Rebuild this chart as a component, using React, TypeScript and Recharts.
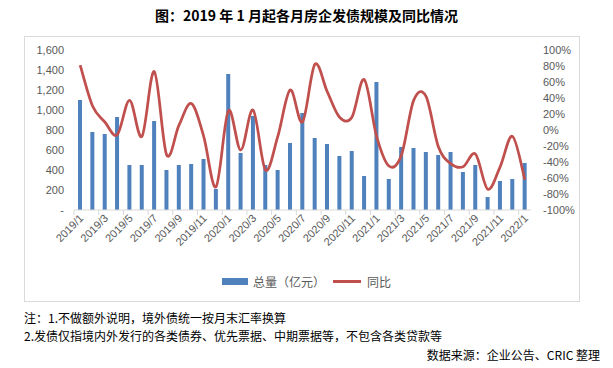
import React from 'react';
import { ComposedChart, Bar, Line, XAxis, YAxis } from 'recharts';

// monthly categories, 2019/1 – 2022/1
const months = [
  '2019/1', '2019/2', '2019/3', '2019/4', '2019/5', '2019/6', '2019/7', '2019/8', '2019/9', '2019/10', '2019/11', '2019/12',
  '2020/1', '2020/2', '2020/3', '2020/4', '2020/5', '2020/6', '2020/7', '2020/8', '2020/9', '2020/10', '2020/11', '2020/12',
  '2021/1', '2021/2', '2021/3', '2021/4', '2021/5', '2021/6', '2021/7', '2021/8', '2021/9', '2021/10', '2021/11', '2021/12',
  '2022/1',
];

// 总量（亿元）
const totals = [
  1100, 780, 760, 930, 450, 450, 890, 400, 450, 460, 510, 210,
  1360, 570, 940, 450, 400, 670, 970, 720, 660, 540, 590, 340,
  1280, 310, 630, 620, 580, 550, 580, 380, 450, 130, 290, 310,
  470,
];

// 同比 (%)
const yoy = [
  81, 30, 10, -6, 37, -8, 73, -31, 6, 33, -8, -71,
  24, -25, 25, -50, -8, 50, 10, 82, 48, 16, 16, 63,
  -8, -45, -32, 37, 42, -21, -42, -46, -30, -74, -46, -8,
  -62,
];

const leftTicks = [0, 200, 400, 600, 800, 1000, 1200, 1400, 1600];
const rightTicks = [-100, -80, -60, -40, -20, 0, 20, 40, 60, 80, 100];

const data = months.map((m, i) => ({ month: m, total: totals[i], yoy: yoy[i] }));

const BLUE = '#4F81BD';
const RED = '#C0504D';
const AXIS_TEXT = '#595959';
const FONT = '"Liberation Sans", Arial, sans-serif';
const CJK = '"Noto Sans CJK SC", "Noto Sans", sans-serif';

// Excel-like smoothed line (Catmull-Rom through every point)
const smoothCurve = (ctx: any) => {
  let pts: [number, number][] = [];
  return {
    areaStart() {},
    areaEnd() {},
    lineStart() {
      pts = [];
    },
    point(x: number, y: number) {
      pts.push([+x, +y]);
    },
    lineEnd() {
      const n = pts.length;
      if (!n) return;
      ctx.moveTo(pts[0][0], pts[0][1]);
      for (let i = 0; i < n - 1; i++) {
        const p0 = pts[Math.max(i - 1, 0)];
        const p1 = pts[i];
        const p2 = pts[i + 1];
        const p3 = pts[Math.min(i + 2, n - 1)];
        ctx.bezierCurveTo(
          p1[0] + (p2[0] - p0[0]) / 6,
          p1[1] + (p2[1] - p0[1]) / 6,
          p2[0] - (p3[0] - p1[0]) / 6,
          p2[1] - (p3[1] - p1[1]) / 6,
          p2[0],
          p2[1],
        );
      }
    },
  };
};

// rotated month label + tick mark on the category boundary
const MonthTick = (props: any) => {
  const { x, y, payload } = props;
  const half = payload?.offset ?? 6.2;
  return (
    <g>
      <line x1={x - half} x2={x - half} y1={y} y2={y + 5} stroke="#d9d9d9" />
      <text
        transform={`translate(${x + 4},${y + 9}) rotate(-45)`}
        textAnchor="end"
        fontSize={11}
        fontFamily={FONT}
        fill={AXIS_TEXT}
      >
        {payload.value}
      </text>
    </g>
  );
};

const fmtLeft = (v: number) => (v === 0 ? '-' : v.toLocaleString('en-US'));

export default function App() {
  return (
    <div
      style={{
        position: 'absolute',
        left: 0,
        top: 0,
        width: 613,
        height: 368,
        background: '#fff',
        overflow: 'hidden',
      }}
    >
      {/* Title */}
      <div
        style={{
          position: 'absolute',
          top: 5,
          left: 0,
          width: 613,
          textAlign: 'center',
          fontFamily: CJK,
          fontWeight: 700,
          fontSize: 14,
          color: '#000',
        }}
      >
        图：2019 年 1 月起各月房企发债规模及同比情况
      </div>

      {/* chart frame */}
      <div
        style={{
          position: 'absolute',
          left: 24,
          top: 36,
          width: 556,
          height: 266,
          border: '1px solid #d9d9d9',
          boxSizing: 'border-box',
        }}
      />

      <div style={{ position: 'absolute', left: 0, top: 0 }}>
        <ComposedChart
          width={613}
          height={260}
          data={data}
          margin={{ top: 50, right: 0, bottom: 10, left: 0 }}
          barSize={4}
        >
          <XAxis
            dataKey="month"
            interval={1}
            height={40}
            tickSize={0}
            tickMargin={0}
            tickLine={false}
            axisLine={{ stroke: '#d9d9d9' }}
            tick={<MonthTick />}
          />
          <YAxis
            yAxisId="left"
            width={74}
            domain={[0, 1600]}
            ticks={leftTicks}
            interval={0}
            tickFormatter={fmtLeft}
            axisLine={false}
            tickLine={false}
            tickMargin={4}
            tick={{ fontSize: 11, fill: AXIS_TEXT, fontFamily: FONT }}
          />
          <YAxis
            yAxisId="right"
            orientation="right"
            width={82}
            domain={[-100, 100]}
            ticks={rightTicks}
            interval={0}
            tickFormatter={(v: number) => `${v}%`}
            axisLine={false}
            tickLine={false}
            tickMargin={6}
            tick={{ fontSize: 11, fill: AXIS_TEXT, fontFamily: FONT }}
          />
          <Bar yAxisId="left" dataKey="total" fill={BLUE} isAnimationActive={false} />
          <Line
            yAxisId="right"
            dataKey="yoy"
            type={smoothCurve as any}
            stroke={RED}
            strokeWidth={2.75}
            dot={false}
            activeDot={false}
            isAnimationActive={false}
          />
        </ComposedChart>
      </div>

      {/* Legend */}
      <div
        style={{
          position: 'absolute',
          top: 273,
          left: 0,
          width: 613,
          display: 'flex',
          justifyContent: 'center',
          alignItems: 'center',
          fontFamily: CJK,
          fontSize: 12,
          color: AXIS_TEXT,
        }}
      >
        <span style={{ display: 'inline-block', width: 26, height: 7, background: BLUE, marginRight: 5 }} />
        <span style={{ marginRight: 8 }}>总量（亿元）</span>
        <span style={{ display: 'inline-block', width: 28, height: 3, background: RED, marginRight: 6 }} />
        <span>同比</span>
      </div>

      {/* Notes */}
      <div
        style={{
          position: 'absolute',
          top: 309,
          left: 24,
          fontFamily: CJK,
          fontSize: 12,
          lineHeight: '18px',
          color: '#000',
        }}
      >
        <div>注：1.不做额外说明，境外债统一按月末汇率换算</div>
        <div>2.发债仅指境内外发行的各类债券、优先票据、中期票据等，不包含各类贷款等</div>
      </div>
      <div
        style={{
          position: 'absolute',
          top: 346,
          right: 13,
          fontFamily: CJK,
          fontSize: 12,
          lineHeight: '18px',
          color: '#000',
        }}
      >
        数据来源：企业公告、CRIC 整理
      </div>
    </div>
  );
}
